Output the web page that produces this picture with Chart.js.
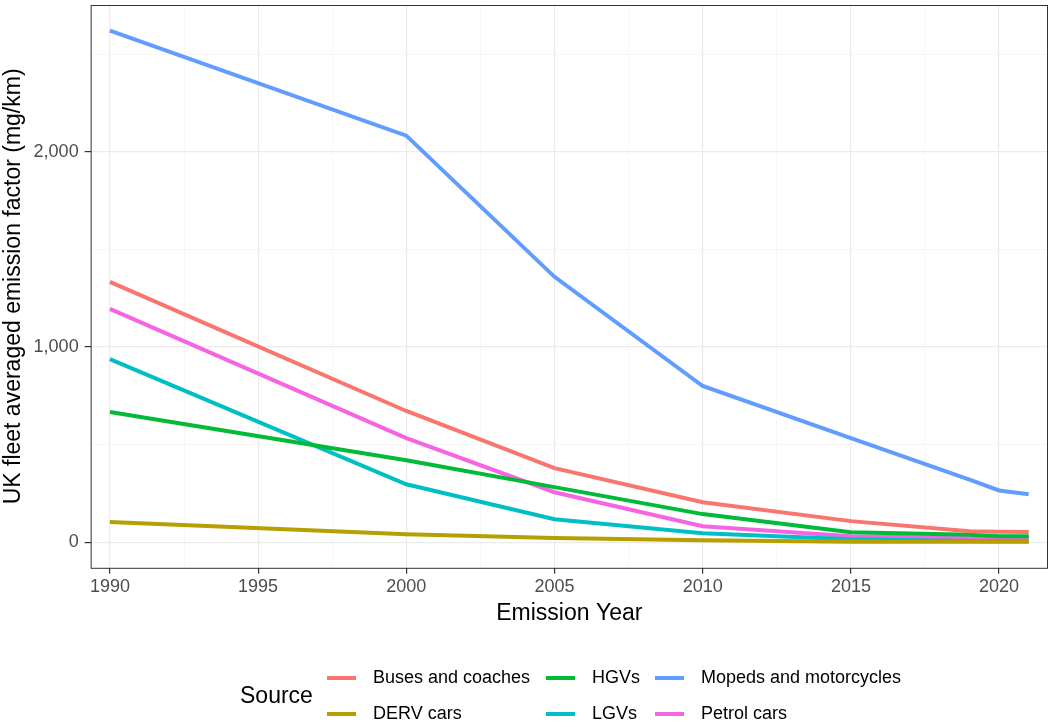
<!DOCTYPE html>
<html>
<head>
<meta charset="utf-8">
<script src="https://cdn.jsdelivr.net/npm/chart.js@4"></script>
<style>
body { margin: 0; background: #fff; }
</style>
</head>
<body>
<canvas id="lineChart" width="1049" height="727"></canvas>
<script>
// years in the data
var years = [1990, 2000, 2005, 2010, 2015, 2019, 2020, 2021];
var seriesNames = ["Buses and coaches", "DERV cars", "HGVs", "LGVs", "Mopeds and motorcycles", "Petrol cars"];
var buses   = [1333, 672, 379, 205, 108, 56, 53, 52];
var derv    = [103, 41, 21, 10, 3, 2, 2, 2];
var hgvs    = [667, 420, 282, 144, 51, 38, 31, 30];
var lgvs    = [938, 297, 118, 46, 15, 6, 5, 5];
var mopeds  = [2620, 2082, 1359, 800, 533, 320, 265, 246];
var petrol  = [1195, 533, 256, 82, 31, 22, 20, 20];
var colours = ['#F8766D', '#B79F00', '#00BA38', '#00BFC4', '#619CFF', '#F564E3'];
var xTicks = [1990, 1992.5, 1995, 1997.5, 2000, 2002.5, 2005, 2007.5, 2010, 2012.5, 2015, 2017.5, 2020];
var yTicks = [0, 500, 1000, 1500, 2000, 2500];

var allValues = [buses, derv, hgvs, lgvs, mopeds, petrol];
var FONT = '"Liberation Sans", Arial, sans-serif';

function pts(vals) {
  return years.map(function (y, i) { return { x: y, y: vals[i] }; });
}

var datasets = seriesNames.map(function (name, i) {
  return {
    label: name,
    data: pts(allValues[i]),
    borderColor: colours[i],
    backgroundColor: colours[i],
    borderWidth: 4,
    pointRadius: 0,
    tension: 0
  };
});

// panel border + ggplot style legend at the bottom
var extras = {
  id: 'extras',
  afterDraw: function (chart) {
    var c = chart.ctx, a = chart.chartArea;
    c.save();
    c.strokeStyle = '#333333';
    c.lineWidth = 1;
    c.strokeRect(a.left + 0.5, a.top + 0.5, a.right - a.left - 1, a.bottom - a.top);

    c.fillStyle = '#000';
    c.font = '23px ' + FONT;
    c.textBaseline = 'middle';
    c.textAlign = 'left';
    c.fillText('Source', 240, 697);

    var cols = [327, 546, 655];
    var rows = [678, 714];
    c.font = '18px ' + FONT;
    for (var i = 0; i < seriesNames.length; i++) {
      var col = Math.floor(i / 2), row = i % 2;
      var x = cols[col], y = rows[row];
      c.strokeStyle = colours[i];
      c.lineWidth = 4;
      c.beginPath();
      c.moveTo(x, y);
      c.lineTo(x + 29, y);
      c.stroke();
      c.fillStyle = '#000';
      c.fillText(seriesNames[i], x + 46, y);
    }
    c.restore();
  }
};

var ctx = document.getElementById('lineChart').getContext('2d');
var myChart = new Chart(ctx, {
  type: 'line',
  data: { datasets: datasets },
  plugins: [extras],
  options: {
    responsive: false,
    animation: false,
    layout: { padding: { left: 0, top: 5, right: 1, bottom: 100 } },
    plugins: {
      legend: { display: false },
      tooltip: { enabled: false }
    },
    scales: {
      x: {
        type: 'linear',
        min: 1989.35,
        max: 2021.65,
        afterBuildTicks: function (axis) {
          axis.ticks = xTicks.map(function (v) { return { value: v }; });
        },
        afterFit: function (axis) {
          axis.paddingLeft = 0;
          axis.paddingRight = 0;
        },
        ticks: {
          color: '#4d4d4d',
          font: { size: 18, family: FONT },
          maxRotation: 0,
          autoSkip: false,
          padding: 2,
          callback: function (v) { return v % 5 === 0 ? String(v) : ''; }
        },
        grid: {
          color: function (c) { return c.tick && c.tick.value % 5 === 0 ? '#ebebeb' : '#f2f2f2'; },
          lineWidth: function (c) { return c.tick && c.tick.value % 5 === 0 ? 1.2 : 0.7; },
          tickColor: function (c) { return c.tick && c.tick.value % 5 === 0 ? '#333333' : 'rgba(0,0,0,0)'; },
          tickLength: 6
        },
        border: { display: false },
        title: {
          display: true,
          text: 'Emission Year',
          color: '#000',
          font: { size: 23, family: FONT },
          padding: { top: 0, bottom: 0 }
        }
      },
      y: {
        min: -131,
        max: 2751,
        afterBuildTicks: function (axis) {
          axis.ticks = yTicks.map(function (v) { return { value: v }; });
        },
        afterFit: function (axis) {
          axis.paddingTop = 0;
          axis.paddingBottom = 0;
        },
        ticks: {
          color: '#4d4d4d',
          font: { size: 18, family: FONT },
          padding: 6,
          callback: function (v) { return v % 1000 === 0 ? v.toLocaleString('en-US') : ''; }
        },
        grid: {
          color: function (c) { return c.tick && c.tick.value % 1000 === 0 ? '#ebebeb' : '#f2f2f2'; },
          lineWidth: function (c) { return c.tick && c.tick.value % 1000 === 0 ? 1.2 : 0.7; },
          tickColor: function (c) { return c.tick && c.tick.value % 1000 === 0 ? '#333333' : 'rgba(0,0,0,0)'; },
          tickLength: 6
        },
        border: { display: false },
        title: {
          display: true,
          text: 'UK fleet averaged emission factor (mg/km)',
          color: '#000',
          font: { size: 23, family: FONT },
          padding: { top: 0, bottom: 0 }
        }
      }
    }
  }
});
</script>
</body>
</html>
